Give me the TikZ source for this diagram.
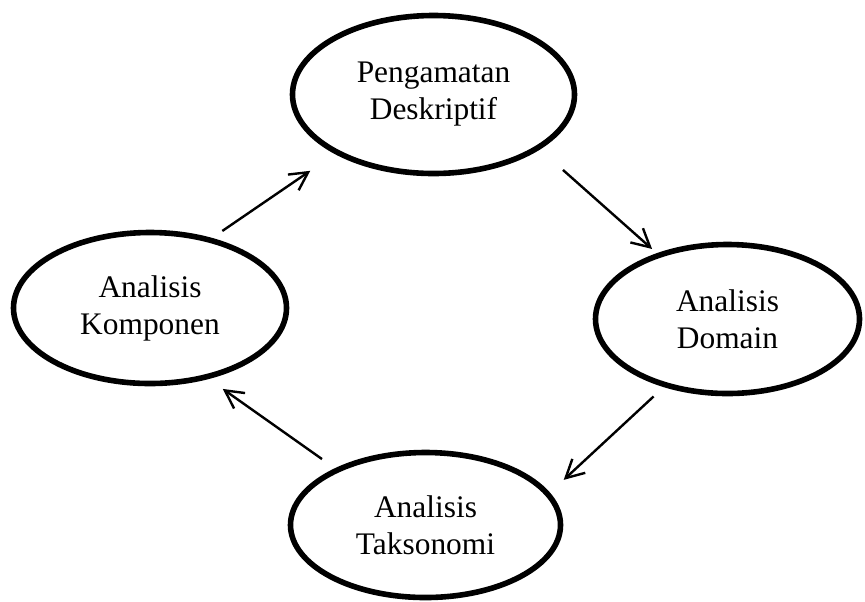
\documentclass[tikz,border=0pt]{standalone}
\usepackage{fontspec}
\setmainfont{Liberation Serif}
\usetikzlibrary{shapes.geometric, arrows.meta}

\begin{document}
\begin{tikzpicture}[x=0.5pt, y=-0.5pt,
    elips/.style={ellipse, draw, line width=2.8pt, outer sep=0pt, inner sep=0pt,
      align=center, font=\fontsize{15.7}{18.5}\selectfont},
    panah/.style={-{Straight Barb[length=9pt, width=9.5pt]}, line width=1.2pt}]
  \useasboundingbox (0,0) rectangle (865,601);
  \node[elips, minimum width=141pt, minimum height=79pt] (pen) at (433.5,94.5) {Pengamatan\\Deskriptif};
  \node[elips, minimum width=136.5pt, minimum height=75.5pt] (kom) at (150,308) {Analisis\\Komponen};
  \node[elips, minimum width=132pt, minimum height=74.5pt] (dom) at (727.5,319) {Analisis\\Domain};
  \node[elips, minimum width=135pt, minimum height=72.5pt] (tak) at (425.5,525) {Analisis\\Taksonomi};
  \foreach \from/\fa/\to/\ta/\s/\t in {kom/49.2/pen/211.4/8/16.4, pen/333/dom/137/16.8/4.75,
      dom/227.3/tak/14.6/8.5/10.75, tak/148.6/kom/309.2/9.5/10.4}
    \draw[panah, shorten <=\s pt, shorten >=\t pt] (\from.\fa) -- (\to.\ta);
\end{tikzpicture}
\end{document}
